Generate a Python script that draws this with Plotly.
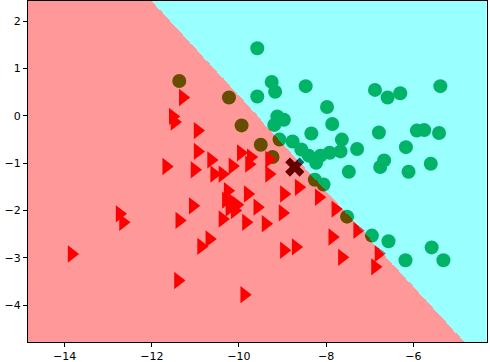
import numpy as np
import plotly.graph_objects as go

# points of class 1 (circles)
circ_x = [-11.37, -10.23, -9.94, -9.58, -9.25, -9.17, -9.58, -8.47, -6.88, -6.59,
          -6.30, -5.38, -7.98, -9.12, -8.97, -9.19, -7.86, -8.34, -6.79, -5.92,
          -5.75, -5.41, -6.17, -7.29, -7.64, -7.67, -8.77, -9.07, -8.57, -8.40,
          -8.13, -7.92, -8.23, -6.67, -6.76, -5.60, -7.48, -6.11, -9.50, -9.23,
          -8.26, -8.06, -7.52, -6.95, -6.57, -6.18, -5.58, -5.31]
circ_y = [0.74, 0.39, -0.20, 1.43, 0.72, 0.51, 0.41, 0.63, 0.55, 0.39,
          0.48, 0.63, 0.19, -0.01, -0.08, -0.19, -0.17, -0.37, -0.35, -0.31,
          -0.30, -0.36, -0.66, -0.70, -0.50, -0.75, -0.54, -0.50, -0.71, -0.84,
          -0.84, -0.78, -0.99, -0.94, -1.08, -1.01, -1.18, -1.18, -0.61, -0.87,
          -1.35, -1.45, -2.13, -2.53, -2.65, -3.05, -2.78, -3.05]

# points of class 0 (triangles)
tri_x = [-11.29, -11.52, -11.48, -10.95, -10.95, -10.64, -9.96, -9.73, -9.77, -11.67,
         -11.02, -10.57, -10.38, -10.15, -10.26, -9.80, -10.30, -10.15, -10.05, -10.22,
         -10.10, -9.58, -11.06, -11.37, -10.38, -9.84, -10.68, -10.87, -11.40, -9.88,
         -12.74, -12.66, -13.84, -9.31, -9.31, -8.97, -8.63, -8.17, -9.00, -7.79,
         -9.39, -7.86, -7.29, -8.97, -8.70, -7.64, -6.80, -6.88]
tri_y = [0.39, -0.01, -0.13, -0.31, -0.75, -0.93, -0.78, -0.87, -1.02, -1.07,
         -1.14, -1.23, -1.23, -1.06, -1.58, -1.65, -1.78, -1.82, -1.88, -1.95,
         -2.00, -1.93, -1.90, -2.21, -2.18, -2.25, -2.60, -2.76, -3.48, -3.78,
         -2.07, -2.25, -2.92, -0.92, -1.23, -1.65, -1.51, -1.72, -2.05, -1.97,
         -2.28, -2.56, -2.42, -2.84, -2.77, -2.99, -2.91, -3.19]

# new sample
test_x = [-8.72]
test_y = [-1.08]

# linear decision function: coef . (x, y) + intercept
coef = [1.008, 1.0]
intercept = 9.656

all_x = circ_x + tri_x + test_x
all_y = circ_y + tri_y + test_y
x_min, x_max = min(all_x) - 1, max(all_x) + 1
y_min, y_max = min(all_y) - 1, max(all_y) + 1

step = 0.02
gx = np.arange(x_min, x_max, step)
gy = np.arange(y_min, y_max, step)
xx, yy = np.meshgrid(gx, gy)
zz = (coef[0] * xx + coef[1] * yy + intercept > 0).astype(int)

fig = go.Figure()

# markers go first, the regions are laid over them with alpha (like contourf after scatter)
fig.add_trace(go.Scatter(x=circ_x, y=circ_y, mode="markers",
                         marker=dict(symbol="circle", size=14, color="green", line=dict(width=0))))
fig.add_trace(go.Scatter(x=tri_x, y=tri_y, mode="markers",
                         marker=dict(symbol="triangle-right", size=15, color="red", line=dict(width=0))))
fig.add_trace(go.Scatter(x=test_x, y=test_y, mode="markers",
                         marker=dict(symbol="x", size=17, color="black", line=dict(width=0))))

fig.add_trace(go.Heatmap(x=gx, y=gy, z=zz, xaxis="x2", yaxis="y2",
                         colorscale=[[0, "red"], [1, "cyan"]], zmin=0, zmax=1,
                         showscale=False, opacity=0.4, hoverinfo="skip"))

axis_style = dict(showgrid=False, zeroline=False, showline=True, linecolor="black",
                  linewidth=1, mirror=True, ticks="outside", ticklen=4, tickcolor="black",
                  automargin=False,
                  tickfont=dict(family="DejaVu Sans", size=11, color="black"))

fig.update_layout(
    width=490, height=362,
    margin=dict(l=28, r=3, t=1, b=20),
    paper_bgcolor="white", plot_bgcolor="white",
    showlegend=False,
    xaxis=dict(range=[x_min, x_max], tickvals=[-14, -12, -10, -8, -6], **axis_style),
    yaxis=dict(range=[y_min, y_max], tickvals=[-4, -3, -2, -1, 0, 1, 2], **axis_style),
    xaxis2=dict(range=[x_min, x_max], overlaying="x", visible=False),
    yaxis2=dict(range=[y_min, y_max], overlaying="y", visible=False),
)

# the browser's default 8px body margin would shift the figure
fig.write_html("out.html", config={"displayModeBar": False},
               post_script="document.body.style.margin='0';")
